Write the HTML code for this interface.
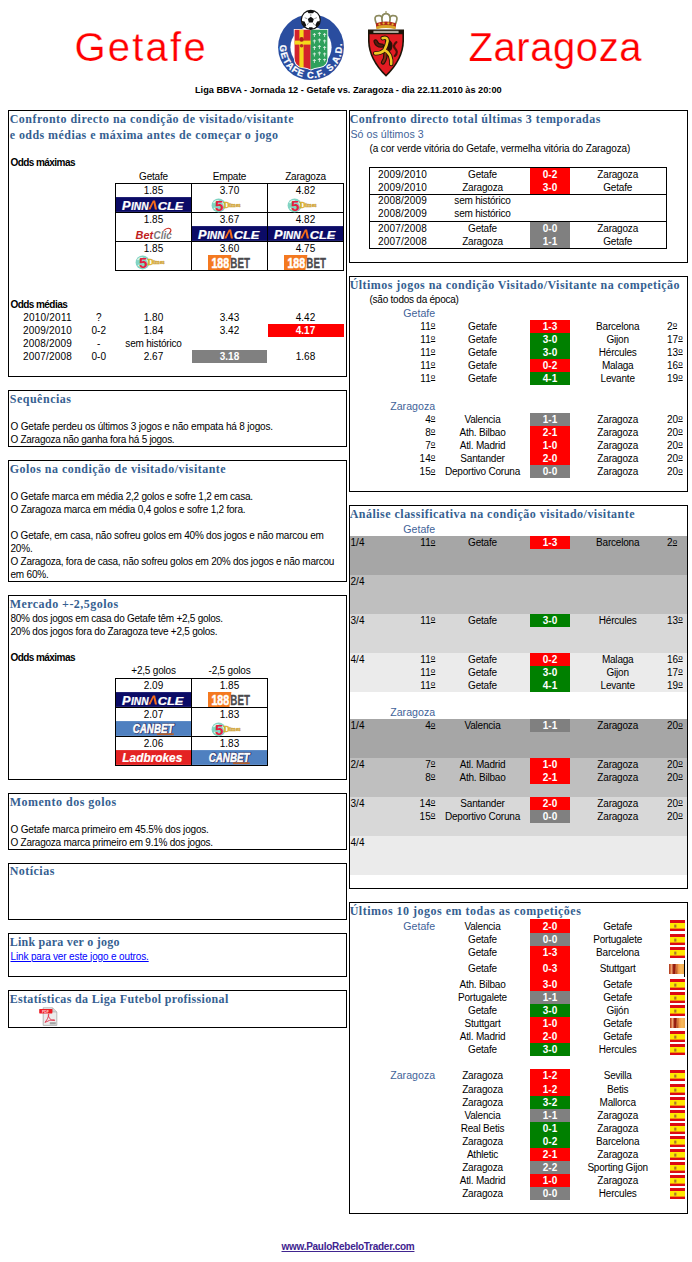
<!DOCTYPE html>
<html><head><meta charset="utf-8"><title>Getafe vs Zaragoza</title>
<style>
html,body{margin:0;padding:0;background:#fff;}
html,body{width:692px;height:1262px;overflow:hidden;}
body{font-family:"Liberation Sans",sans-serif;}
#pg{position:absolute;left:0;top:0;width:692px;height:1262px;overflow:hidden;background:#fff;}
.t{position:absolute;white-space:nowrap;font-size:10px;line-height:12px;color:#000;letter-spacing:-0.2px;}
.bb{font-weight:bold;font-size:10px;letter-spacing:-0.56px;}
.n{letter-spacing:0.05px;}
.o{position:relative;top:-2.6px;font-size:8px;text-decoration:underline;text-underline-offset:0.8px;text-decoration-thickness:0.8px;letter-spacing:0;}
.h{font-family:"Liberation Serif",serif;font-weight:bold;font-size:12px;line-height:16px;color:#365f91;letter-spacing:0.44px;}
.lab{font-size:10.6px;line-height:14px;color:#3f6399;letter-spacing:0.05px;}
.w{color:#fff;font-weight:bold;letter-spacing:0;}
.box{position:absolute;border:1px solid #000;box-sizing:content-box;}
.r{position:absolute;}
.title{font-size:40px;line-height:48px;color:#ff0000;-webkit-text-stroke:0.25px #fff;}
.sub{font-size:9.5px;line-height:12px;font-weight:bold;letter-spacing:-0.15px;}
.lnk{color:#0000ff;text-decoration:underline;}
</style></head><body><div id="pg">

<div class="t title" style="top:23.04px;left:74.40px;text-align:left;letter-spacing:2.25px;">Getafe</div>
<div class="t title" style="top:23.04px;left:468.60px;text-align:left;letter-spacing:0.55px;">Zaragoza</div>
<div class="t sub" style="top:83.93px;left:195.20px;text-align:left;font-size:10px;letter-spacing:0;transform:scale(0.9195,0.93);transform-origin:0 9.5px;">Liga BBVA - Jornada 12 - Getafe vs. Zaragoza - dia 22.11.2010 às 20:00</div>
<svg class="r" style="left:277px;top:8px" width="68" height="73" viewBox="0 0 68 73">
<defs><path id="garc" d="M 3.08 37.04 A 31 31 0 1 0 64.70 34.89"/></defs>
<circle cx="34" cy="39.2" r="32.9" fill="#2a4d9f"/>
<circle cx="34" cy="39.2" r="20.6" fill="#fff"/>
<text font-family="Liberation Sans" font-weight="bold" font-size="9.3" fill="#fff" stroke="#fff" stroke-width="0.25" letter-spacing="1.0"><textPath href="#garc" startOffset="0">GETAFE C.F. S.A.D.</textPath></text>
<path d="M16.8 21 H51.2 V50 Q51.2 58.5 43 60 Q37 60.6 34 62.6 Q31 60.6 25 60 Q16.8 58.5 16.8 50 Z" fill="#fff"/>
<path d="M17.6 21.8 H33.7 V61.4 Q30.5 59.6 25 59 Q17.6 57.6 17.6 50 Z" fill="#d3232b"/>
<path d="M33.7 21.8 H50.4 V50 Q50.4 57.6 43 59 Q37.5 59.6 33.7 61.4 Z" fill="#2fa05c"/>
<rect x="22.4" y="21.8" width="4.2" height="37.6" fill="#f4d81c"/>
<rect x="17.6" y="32.6" width="16.1" height="4" fill="#f4d81c"/>
<circle cx="24.6" cy="31.4" r="2.3" fill="#b01c1c"/>
<circle cx="24.6" cy="37.8" r="1.8" fill="#c02828"/>
<g stroke="#e8f6ec" stroke-width="0.8" fill="none">
<path d="M37.4 25v4M35.8 26.4h3.2 M42.4 24v4M40.8 25.4h3.2 M47.6 25v4M46 26.4h3.2"/>
<path d="M37.4 31.5v4M35.8 32.9h3.2 M42.4 30.5v4M40.8 31.9h3.2 M47.6 31.5v4M46 32.9h3.2"/>
<path d="M37.4 38v4M35.8 39.4h3.2 M42.4 37v4M40.8 38.4h3.2 M47.6 38v4M46 39.4h3.2"/>
<path d="M37.4 44.5v4M35.8 45.9h3.2 M42.4 43.5v4M40.8 44.9h3.2 M47.6 44.5v4M46 45.9h3.2"/>
<path d="M37.4 51v4M35.8 52.4h3.2 M42.4 50v4M40.8 51.4h3.2 M47.6 50.5v3M46 51.6h3"/>
</g>
<circle cx="33.8" cy="11.8" r="9.5" fill="#fff" stroke="#111" stroke-width="1.2"/>
<path d="M33.8 8.8 l3 2.2 -1.1 3.5 h-3.8 l-1.1 -3.5z" fill="#111"/>
<path d="M24.7 13 q0.4 3.8 3.2 6.2 l1.4 -2 -1.8 -3.6z M42.9 13 q-0.4 3.8 -3.2 6.2 l-1.4 -2 1.8 -3.6z M30 3.2 q3.8 -1.6 7.6 0 l-1.6 2 h-4.4z M31.6 20.8 q2.2 0.7 4.4 0 l-0.6 -1.6 h-3.2z" fill="#111"/>
<path d="M33.8 8.2V6 M37.3 10.7l2.6-1 M36 14.8l1.6 2.4 M31.6 14.8l-1.6 2.4 M30.3 10.7l-2.6-1" stroke="#555" stroke-width="0.6"/>
</svg>
<svg class="r" style="left:366px;top:10px" width="40" height="68" viewBox="0 0 40 68">
<path d="M20 1v3.4" stroke="#9a9460" stroke-width="1.2"/>
<path d="M10.4 12.4 Q20 8.4 29.6 12.4 L29.4 18.4 Q20 16.4 10.6 18.4 Z" fill="#a82418"/>
<g fill="#fff" stroke="#8c8a5e" stroke-width="1.7">
<path d="M10.6 14 Q6.4 4.8 13.6 5.6 Q17.2 6.4 16.6 12.6"/><path d="M29.4 14 Q33.6 4.8 26.4 5.6 Q22.8 6.4 23.4 12.6"/>
<path d="M16.4 12.8 Q14.6 3.6 20 3.6 Q25.4 3.6 23.6 12.8"/>
</g>
<path d="M9.8 13.2 Q20 9.6 30.2 13.2 L29.8 17.2 Q20 14.4 10.2 17.2 Z" fill="#b02a1a"/>
<g fill="#e8b62c"><circle cx="13.4" cy="14.4" r="1.1"/><circle cx="17.6" cy="13.4" r="1.1"/><circle cx="22.4" cy="13.4" r="1.1"/><circle cx="26.6" cy="14.4" r="1.1"/></g>
<path d="M10.2 16.4 Q20 13.6 29.8 16.4 L29.5 19.2 Q20 16.8 10.5 19.2Z" fill="#d8a428"/>
<path d="M2 19.6 H38 V31 Q37.6 50 20 66.8 Q2.4 50 2 31 Z" fill="#1c1408"/>
<path d="M3.6 24.2 H36.4 V31 Q36 48.8 20 64.6 Q4 48.8 3.6 31 Z" fill="#e21c23"/>
<rect x="7.4" y="20.8" width="25.2" height="2.2" fill="#e8e4d8" opacity="0.7"/>
<g fill="none" stroke-linecap="round" stroke-linejoin="round">
<path d="M16.6 28.2 Q21.6 26.6 21.6 31 Q20.6 36.4 18.4 40 Q15 43.6 9.2 43.4 M18.4 40 Q22 41.6 24 45.4 Q25.6 49.6 25.2 54 M19.4 43.6 Q20 48 17 52.4 M21 31 Q25.6 33 23.8 38.4 M16 35.6 Q11 36 9.6 31.4" stroke="#241208" stroke-width="4.4"/>
<path d="M16.6 28.2 Q21.6 26.6 21.6 31 Q20.6 36.4 18.4 40 Q15 43.6 9.2 43.4 M18.4 40 Q22 41.6 24 45.4 Q25.6 49.6 25.2 54" stroke="#efc824" stroke-width="2.6"/>
<path d="M19.4 43.6 Q20 48 17 52.4" stroke="#8a2a10" stroke-width="2"/>
<path d="M16 35.6 Q11 36 9.6 31.4" stroke="#5a1a0c" stroke-width="2"/>
<path d="M30.4 32.2 Q26.2 35.6 29.4 39 Q32.6 42.4 28.8 46" stroke="#4a1208" stroke-width="2.2"/>
</g>
</svg>
<div class="box" style="left:8px;top:110px;width:337px;height:265px"></div>
<div class="t h" style="top:110.95px;left:9.70px;text-align:left;letter-spacing:0.466px;">Confronto directo na condição de visitado/visitante</div>
<div class="t h" style="top:126.55px;left:9.70px;text-align:left;letter-spacing:0.436px;">e odds médias e máxima antes de começar o jogo</div>
<div class="t bb" style="top:157.03px;left:10.50px;text-align:left;">Odds máximas</div>
<div class="t b" style="top:170.93px;left:-46.50px;width:400px;text-align:center;">Getafe</div>
<div class="t b" style="top:170.93px;left:29.50px;width:400px;text-align:center;">Empate</div>
<div class="t b" style="top:170.93px;left:105.50px;width:400px;text-align:center;">Zaragoza</div>
<div class="r" style="left:115.00px;top:183.00px;width:229.00px;height:1.00px;background:#000;"></div>
<div class="r" style="left:115.00px;top:212.00px;width:229.00px;height:1.00px;background:#000;"></div>
<div class="r" style="left:115.00px;top:241.00px;width:229.00px;height:1.00px;background:#000;"></div>
<div class="r" style="left:115.00px;top:270.00px;width:229.00px;height:1.00px;background:#000;"></div>
<div class="r" style="left:115.00px;top:183.00px;width:1.00px;height:88.00px;background:#000;"></div>
<div class="r" style="left:191.00px;top:183.00px;width:1.00px;height:88.00px;background:#000;"></div>
<div class="r" style="left:267.00px;top:183.00px;width:1.00px;height:88.00px;background:#000;"></div>
<div class="r" style="left:343.00px;top:183.00px;width:1.00px;height:88.00px;background:#000;"></div>
<div class="t b n" style="top:185.03px;left:-46.50px;width:400px;text-align:center;">1.85</div>
<div class="t b n" style="top:185.03px;left:29.50px;width:400px;text-align:center;">3.70</div>
<div class="t b n" style="top:185.03px;left:105.50px;width:400px;text-align:center;">4.82</div>
<div class="t b n" style="top:214.03px;left:-46.50px;width:400px;text-align:center;">1.85</div>
<div class="t b n" style="top:214.03px;left:29.50px;width:400px;text-align:center;">3.67</div>
<div class="t b n" style="top:214.03px;left:105.50px;width:400px;text-align:center;">4.82</div>
<div class="t b n" style="top:243.03px;left:-46.50px;width:400px;text-align:center;">1.85</div>
<div class="t b n" style="top:243.03px;left:29.50px;width:400px;text-align:center;">3.60</div>
<div class="t b n" style="top:243.03px;left:105.50px;width:400px;text-align:center;">4.75</div>
<svg class="r" style="left:116px;top:197px" width="75" height="15" viewBox="0 0 76 15"><rect width="76" height="15" fill="#0b0b66"/><g fill="#fff" stroke="#fff" stroke-width="0.25" font-family="Liberation Sans" font-weight="bold" font-style="italic"><text x="6.2" y="12.6" font-size="12.4" textLength="8.6" lengthAdjust="spacingAndGlyphs">P</text><text x="15.2" y="12.6" font-size="11" textLength="17.8" lengthAdjust="spacingAndGlyphs">INN</text><text x="42.2" y="12.6" font-size="11" textLength="26" lengthAdjust="spacingAndGlyphs">CLE</text></g><path d="M32.6 12.6 L37.4 3.4 L39.6 3.4 L41.6 12.6 L39.4 12.6 L38 5.8 L34.9 12.6 Z" fill="#f26a1b"/></svg>
<svg class="r" style="left:210.5px;top:197.5px" width="31" height="15" viewBox="0 0 31 15"><circle cx="7.6" cy="7.4" r="7" fill="#62c9b4" opacity="0.8"/><path d="M2.5 5 Q5 2 8 3 M3 10 Q6 12.5 9 11.5 M10 3.5 Q13 5 13.5 8.5" stroke="#e6f6f2" stroke-width="1.3" fill="none" opacity="0.9"/><text x="4" y="13.4" font-family="Liberation Sans" font-weight="bold" font-size="15" fill="#e6203e" textLength="8.4" lengthAdjust="spacingAndGlyphs">5</text><text x="12.4" y="9.9" font-family="Liberation Serif" font-weight="bold" font-size="8.6" fill="#dcb030" stroke="#dcb030" stroke-width="0.35">D</text><text x="18.2" y="8.9" font-family="Liberation Serif" font-weight="bold" font-size="6.8" fill="#cfa232" stroke="#cfa232" stroke-width="0.3" textLength="11.4" lengthAdjust="spacingAndGlyphs">imes</text></svg>
<svg class="r" style="left:286.5px;top:197.5px" width="31" height="15" viewBox="0 0 31 15"><circle cx="7.6" cy="7.4" r="7" fill="#62c9b4" opacity="0.8"/><path d="M2.5 5 Q5 2 8 3 M3 10 Q6 12.5 9 11.5 M10 3.5 Q13 5 13.5 8.5" stroke="#e6f6f2" stroke-width="1.3" fill="none" opacity="0.9"/><text x="4" y="13.4" font-family="Liberation Sans" font-weight="bold" font-size="15" fill="#e6203e" textLength="8.4" lengthAdjust="spacingAndGlyphs">5</text><text x="12.4" y="9.9" font-family="Liberation Serif" font-weight="bold" font-size="8.6" fill="#dcb030" stroke="#dcb030" stroke-width="0.35">D</text><text x="18.2" y="8.9" font-family="Liberation Serif" font-weight="bold" font-size="6.8" fill="#cfa232" stroke="#cfa232" stroke-width="0.3" textLength="11.4" lengthAdjust="spacingAndGlyphs">imes</text></svg>
<svg class="r" style="left:134.5px;top:227px" width="39" height="14" viewBox="0 0 39 14"><text x="0.6" y="11.9" font-family="Liberation Sans" font-weight="bold" font-style="italic" font-size="10.2" fill="#c0201c" textLength="17.6" lengthAdjust="spacingAndGlyphs">Bet</text><text x="18.6" y="11.9" font-family="Liberation Sans" font-weight="bold" font-style="italic" font-size="10.2" fill="#77787a" textLength="18" lengthAdjust="spacingAndGlyphs">Clic</text><path d="M28.6 3.6 Q32.6 -0.2 35.4 2 Q36.8 3.8 34.4 6" fill="none" stroke="#c8281f" stroke-width="1.1"/></svg>
<svg class="r" style="left:192px;top:226px" width="75" height="15" viewBox="0 0 76 15"><rect width="76" height="15" fill="#0b0b66"/><g fill="#fff" stroke="#fff" stroke-width="0.25" font-family="Liberation Sans" font-weight="bold" font-style="italic"><text x="6.2" y="12.6" font-size="12.4" textLength="8.6" lengthAdjust="spacingAndGlyphs">P</text><text x="15.2" y="12.6" font-size="11" textLength="17.8" lengthAdjust="spacingAndGlyphs">INN</text><text x="42.2" y="12.6" font-size="11" textLength="26" lengthAdjust="spacingAndGlyphs">CLE</text></g><path d="M32.6 12.6 L37.4 3.4 L39.6 3.4 L41.6 12.6 L39.4 12.6 L38 5.8 L34.9 12.6 Z" fill="#f26a1b"/></svg>
<svg class="r" style="left:268px;top:226px" width="75" height="15" viewBox="0 0 76 15"><rect width="76" height="15" fill="#0b0b66"/><g fill="#fff" stroke="#fff" stroke-width="0.25" font-family="Liberation Sans" font-weight="bold" font-style="italic"><text x="6.2" y="12.6" font-size="12.4" textLength="8.6" lengthAdjust="spacingAndGlyphs">P</text><text x="15.2" y="12.6" font-size="11" textLength="17.8" lengthAdjust="spacingAndGlyphs">INN</text><text x="42.2" y="12.6" font-size="11" textLength="26" lengthAdjust="spacingAndGlyphs">CLE</text></g><path d="M32.6 12.6 L37.4 3.4 L39.6 3.4 L41.6 12.6 L39.4 12.6 L38 5.8 L34.9 12.6 Z" fill="#f26a1b"/></svg>
<svg class="r" style="left:134.5px;top:255px" width="31" height="15" viewBox="0 0 31 15"><circle cx="7.6" cy="7.4" r="7" fill="#62c9b4" opacity="0.8"/><path d="M2.5 5 Q5 2 8 3 M3 10 Q6 12.5 9 11.5 M10 3.5 Q13 5 13.5 8.5" stroke="#e6f6f2" stroke-width="1.3" fill="none" opacity="0.9"/><text x="4" y="13.4" font-family="Liberation Sans" font-weight="bold" font-size="15" fill="#e6203e" textLength="8.4" lengthAdjust="spacingAndGlyphs">5</text><text x="12.4" y="9.9" font-family="Liberation Serif" font-weight="bold" font-size="8.6" fill="#dcb030" stroke="#dcb030" stroke-width="0.35">D</text><text x="18.2" y="8.9" font-family="Liberation Serif" font-weight="bold" font-size="6.8" fill="#cfa232" stroke="#cfa232" stroke-width="0.3" textLength="11.4" lengthAdjust="spacingAndGlyphs">imes</text></svg>
<svg class="r" style="left:208px;top:255px" width="44" height="15" viewBox="0 0 44 15"><path d="M0 0 H23.4 L21.4 15 H0Z" fill="#f47920"/><text x="3.4" y="12.9" font-family="Liberation Sans" font-weight="bold" font-size="14.2" fill="#fff" stroke="#fff" stroke-width="0.5" textLength="17.8" lengthAdjust="spacingAndGlyphs">188</text><text x="22.3" y="12.9" font-family="Liberation Sans" font-weight="bold" font-size="14.2" fill="#4a4a4d" stroke="#4a4a4d" stroke-width="0.3" textLength="19.6" lengthAdjust="spacingAndGlyphs">BET</text></svg>
<svg class="r" style="left:284px;top:255px" width="44" height="15" viewBox="0 0 44 15"><path d="M0 0 H23.4 L21.4 15 H0Z" fill="#f47920"/><text x="3.4" y="12.9" font-family="Liberation Sans" font-weight="bold" font-size="14.2" fill="#fff" stroke="#fff" stroke-width="0.5" textLength="17.8" lengthAdjust="spacingAndGlyphs">188</text><text x="22.3" y="12.9" font-family="Liberation Sans" font-weight="bold" font-size="14.2" fill="#4a4a4d" stroke="#4a4a4d" stroke-width="0.3" textLength="19.6" lengthAdjust="spacingAndGlyphs">BET</text></svg>
<div class="t bb" style="top:298.83px;left:10.50px;text-align:left;">Odds médias</div>
<div class="r" style="left:268.00px;top:324.00px;width:76.00px;height:13.00px;background:#ff0000;"></div>
<div class="r" style="left:192.00px;top:350.00px;width:75.00px;height:13.00px;background:#808080;"></div>
<div class="t b n" style="top:312.43px;left:-152.50px;width:400px;text-align:center;letter-spacing:0.2px;">2010/2011</div>
<div class="t b n" style="top:312.43px;left:-101.20px;width:400px;text-align:center;">?</div>
<div class="t b n" style="top:312.43px;left:-46.50px;width:400px;text-align:center;">1.80</div>
<div class="t b n" style="top:312.43px;left:29.50px;width:400px;text-align:center;">3.43</div>
<div class="t b n" style="top:312.43px;left:105.50px;width:400px;text-align:center;">4.42</div>
<div class="t b n" style="top:325.23px;left:-152.50px;width:400px;text-align:center;letter-spacing:0.2px;">2009/2010</div>
<div class="t b n" style="top:325.23px;left:-101.20px;width:400px;text-align:center;">0-2</div>
<div class="t b n" style="top:325.23px;left:-46.50px;width:400px;text-align:center;">1.84</div>
<div class="t b n" style="top:325.23px;left:29.50px;width:400px;text-align:center;">3.42</div>
<div class="t w" style="top:325.23px;left:105.50px;width:400px;text-align:center;">4.17</div>
<div class="t b n" style="top:338.03px;left:-152.50px;width:400px;text-align:center;letter-spacing:0.2px;">2008/2009</div>
<div class="t b n" style="top:338.03px;left:-101.20px;width:400px;text-align:center;">-</div>
<div class="t b" style="top:338.03px;left:-46.50px;width:400px;text-align:center;">sem histórico</div>
<div class="t b n" style="top:350.83px;left:-152.50px;width:400px;text-align:center;letter-spacing:0.2px;">2007/2008</div>
<div class="t b n" style="top:350.83px;left:-101.20px;width:400px;text-align:center;">0-0</div>
<div class="t b n" style="top:350.83px;left:-46.50px;width:400px;text-align:center;">2.67</div>
<div class="t w" style="top:350.83px;left:29.50px;width:400px;text-align:center;">3.18</div>
<div class="t b n" style="top:350.83px;left:105.50px;width:400px;text-align:center;">1.68</div>
<div class="box" style="left:8px;top:390px;width:337px;height:55px"></div>
<div class="t h" style="top:390.85px;left:9.70px;text-align:left;letter-spacing:0.518px;">Sequências</div>
<div class="t b" style="top:420.73px;left:10.50px;text-align:left;letter-spacing:-0.179px;">O Getafe perdeu os últimos 3 jogos e não empata há 8 jogos.</div>
<div class="t b" style="top:433.73px;left:10.50px;text-align:left;letter-spacing:-0.290px;">O Zaragoza não ganha fora há 5 jogos.</div>
<div class="box" style="left:8px;top:460px;width:337px;height:120px"></div>
<div class="t h" style="top:460.85px;left:9.70px;text-align:left;letter-spacing:0.470px;">Golos na condição de visitado/visitante</div>
<div class="t b" style="top:490.73px;left:10.50px;text-align:left;letter-spacing:-0.226px;">O Getafe marca em média 2,2 golos e sofre 1,2 em casa.</div>
<div class="t b" style="top:503.63px;left:10.50px;text-align:left;letter-spacing:-0.214px;">O Zaragoza marca em média 0,4 golos e sofre 1,2 fora.</div>
<div class="t b" style="top:530.23px;left:10.50px;text-align:left;letter-spacing:-0.234px;">O Getafe, em casa, não sofreu golos em 40% dos jogos e não marcou em</div>
<div class="t b" style="top:543.13px;left:10.50px;text-align:left;">20%.</div>
<div class="t b" style="top:556.03px;left:10.50px;text-align:left;letter-spacing:-0.253px;">O Zaragoza, fora de casa, não sofreu golos em 20% dos jogos e não marcou</div>
<div class="t b" style="top:568.83px;left:10.50px;text-align:left;">em 60%.</div>
<div class="box" style="left:8px;top:595px;width:337px;height:183px"></div>
<div class="t h" style="top:595.85px;left:9.70px;text-align:left;letter-spacing:0.457px;">Mercado +-2,5golos</div>
<div class="t b" style="top:613.43px;left:10.50px;text-align:left;letter-spacing:-0.254px;">80% dos jogos em casa do Getafe têm +2,5 golos.</div>
<div class="t b" style="top:626.13px;left:10.50px;text-align:left;letter-spacing:-0.241px;">20% dos jogos fora do Zaragoza teve +2,5 golos.</div>
<div class="t bb" style="top:651.63px;left:10.50px;text-align:left;">Odds máximas</div>
<div class="t b" style="top:665.23px;left:-46.50px;width:400px;text-align:center;">+2,5 golos</div>
<div class="t b" style="top:665.23px;left:29.50px;width:400px;text-align:center;">-2,5 golos</div>
<div class="r" style="left:115.00px;top:678.00px;width:153.00px;height:1.00px;background:#000;"></div>
<div class="r" style="left:115.00px;top:707.00px;width:153.00px;height:1.00px;background:#000;"></div>
<div class="r" style="left:115.00px;top:736.00px;width:153.00px;height:1.00px;background:#000;"></div>
<div class="r" style="left:115.00px;top:765.00px;width:153.00px;height:1.00px;background:#000;"></div>
<div class="r" style="left:115.00px;top:678.00px;width:1.00px;height:88.00px;background:#000;"></div>
<div class="r" style="left:191.00px;top:678.00px;width:1.00px;height:88.00px;background:#000;"></div>
<div class="r" style="left:267.00px;top:678.00px;width:1.00px;height:88.00px;background:#000;"></div>
<div class="t b n" style="top:680.23px;left:-46.50px;width:400px;text-align:center;">2.09</div>
<div class="t b n" style="top:680.23px;left:29.50px;width:400px;text-align:center;">1.85</div>
<div class="t b n" style="top:709.23px;left:-46.50px;width:400px;text-align:center;">2.07</div>
<div class="t b n" style="top:709.23px;left:29.50px;width:400px;text-align:center;">1.83</div>
<div class="t b n" style="top:738.23px;left:-46.50px;width:400px;text-align:center;">2.06</div>
<div class="t b n" style="top:738.23px;left:29.50px;width:400px;text-align:center;">1.83</div>
<svg class="r" style="left:116px;top:692px" width="75" height="15" viewBox="0 0 76 15"><rect width="76" height="15" fill="#0b0b66"/><g fill="#fff" stroke="#fff" stroke-width="0.25" font-family="Liberation Sans" font-weight="bold" font-style="italic"><text x="6.2" y="12.6" font-size="12.4" textLength="8.6" lengthAdjust="spacingAndGlyphs">P</text><text x="15.2" y="12.6" font-size="11" textLength="17.8" lengthAdjust="spacingAndGlyphs">INN</text><text x="42.2" y="12.6" font-size="11" textLength="26" lengthAdjust="spacingAndGlyphs">CLE</text></g><path d="M32.6 12.6 L37.4 3.4 L39.6 3.4 L41.6 12.6 L39.4 12.6 L38 5.8 L34.9 12.6 Z" fill="#f26a1b"/></svg>
<svg class="r" style="left:208px;top:692.3px" width="44" height="15" viewBox="0 0 44 15"><path d="M0 0 H23.4 L21.4 15 H0Z" fill="#f47920"/><text x="3.4" y="12.9" font-family="Liberation Sans" font-weight="bold" font-size="14.2" fill="#fff" stroke="#fff" stroke-width="0.5" textLength="17.8" lengthAdjust="spacingAndGlyphs">188</text><text x="22.3" y="12.9" font-family="Liberation Sans" font-weight="bold" font-size="14.2" fill="#4a4a4d" stroke="#4a4a4d" stroke-width="0.3" textLength="19.6" lengthAdjust="spacingAndGlyphs">BET</text></svg>
<svg class="r" style="left:116px;top:721px" width="75" height="15" viewBox="0 0 76 15"><rect width="76" height="15" fill="#4f80c0"/><g font-family="Liberation Sans" font-weight="bold" font-style="italic" font-size="12.2"><text x="17.5" y="12.5" fill="#1a2458" stroke="#1a2458" stroke-width="1.5" stroke-linejoin="round" textLength="41.4" lengthAdjust="spacingAndGlyphs">CANBET</text><text x="16.9" y="11.8" fill="#fff" stroke="#fff" stroke-width="0.55" textLength="41.4" lengthAdjust="spacingAndGlyphs">CANBET</text></g><rect x="41.5" y="12.4" width="17" height="1.8" fill="#b4602c"/></svg>
<svg class="r" style="left:210.5px;top:721.5px" width="31" height="15" viewBox="0 0 31 15"><circle cx="7.6" cy="7.4" r="7" fill="#62c9b4" opacity="0.8"/><path d="M2.5 5 Q5 2 8 3 M3 10 Q6 12.5 9 11.5 M10 3.5 Q13 5 13.5 8.5" stroke="#e6f6f2" stroke-width="1.3" fill="none" opacity="0.9"/><text x="4" y="13.4" font-family="Liberation Sans" font-weight="bold" font-size="15" fill="#e6203e" textLength="8.4" lengthAdjust="spacingAndGlyphs">5</text><text x="12.4" y="9.9" font-family="Liberation Serif" font-weight="bold" font-size="8.6" fill="#dcb030" stroke="#dcb030" stroke-width="0.35">D</text><text x="18.2" y="8.9" font-family="Liberation Serif" font-weight="bold" font-size="6.8" fill="#cfa232" stroke="#cfa232" stroke-width="0.3" textLength="11.4" lengthAdjust="spacingAndGlyphs">imes</text></svg>
<svg class="r" style="left:116px;top:750px" width="75" height="15" viewBox="0 0 76 15"><rect width="76" height="15" fill="#e42323"/><text x="6.4" y="12.2" font-family="Liberation Sans" font-weight="bold" font-style="italic" font-size="12.6" fill="#fff" stroke="#fff" stroke-width="0.2" textLength="60.8" lengthAdjust="spacingAndGlyphs">Ladbrokes</text></svg>
<svg class="r" style="left:192px;top:750px" width="75" height="15" viewBox="0 0 76 15"><rect width="76" height="15" fill="#4f80c0"/><g font-family="Liberation Sans" font-weight="bold" font-style="italic" font-size="12.2"><text x="17.5" y="12.5" fill="#1a2458" stroke="#1a2458" stroke-width="1.5" stroke-linejoin="round" textLength="41.4" lengthAdjust="spacingAndGlyphs">CANBET</text><text x="16.9" y="11.8" fill="#fff" stroke="#fff" stroke-width="0.55" textLength="41.4" lengthAdjust="spacingAndGlyphs">CANBET</text></g><rect x="41.5" y="12.4" width="17" height="1.8" fill="#b4602c"/></svg>
<div class="box" style="left:8px;top:793px;width:337px;height:55px"></div>
<div class="t h" style="top:793.85px;left:9.70px;text-align:left;letter-spacing:0.496px;">Momento dos golos</div>
<div class="t b" style="top:824.43px;left:10.50px;text-align:left;letter-spacing:-0.187px;">O Getafe marca primeiro em 45.5% dos jogos.</div>
<div class="t b" style="top:837.23px;left:10.50px;text-align:left;letter-spacing:-0.238px;">O Zaragoza marca primeiro em 9.1% dos jogos.</div>
<div class="box" style="left:8px;top:863px;width:337px;height:55px"></div>
<div class="t h" style="top:863.45px;left:9.70px;text-align:left;letter-spacing:0.470px;">Notícias</div>
<div class="box" style="left:8px;top:933px;width:337px;height:42px"></div>
<div class="t h" style="top:933.85px;left:9.70px;text-align:left;letter-spacing:0.243px;">Link para ver o jogo</div>
<div class="t lnk" style="top:950.73px;left:10.50px;text-align:left;letter-spacing:-0.142px;">Link para ver este jogo e outros.</div>
<div class="box" style="left:8px;top:990px;width:337px;height:36px"></div>
<div class="t h" style="top:990.85px;left:9.70px;text-align:left;letter-spacing:0.335px;">Estatísticas da Liga Futebol profissional</div>
<svg class="r" style="left:39px;top:1007px" width="19" height="19" viewBox="0 0 19 19">
<path d="M4.2 0.8 H13.6 L17.8 5 V18.4 H4.2Z" fill="#ececec" stroke="#a8a8a8" stroke-width="0.8"/>
<path d="M13.6 0.8 V5 H17.8" fill="#d4d4d4" stroke="#a8a8a8" stroke-width="0.6"/>
<rect x="0.2" y="1.9" width="13.2" height="4.5" rx="0.6" fill="#ee1c24"/>
<text x="3" y="5.7" font-family="Liberation Sans" font-weight="bold" font-size="4" fill="#ffd8d8" textLength="7" lengthAdjust="spacingAndGlyphs">PDF</text>
<path d="M6 15.4 Q9 12 9.8 8 Q10 6.8 9.4 7.2 Q8.8 8.4 10.4 11.2 Q12.4 13.8 15.6 13.6 Q16.4 13 15 12.8 Q10.6 12.6 6 15.4Z" fill="none" stroke="#e2344c" stroke-width="0.9"/>
<rect x="10.8" y="15.2" width="6" height="2.2" fill="#a4a4a4"/>
</svg>
<div class="box" style="left:349px;top:110px;width:337px;height:151px"></div>
<div class="t h" style="top:110.95px;left:349.70px;text-align:left;letter-spacing:0.436px;">Confronto directo total últimas 3 temporadas</div>
<div class="t lab" style="top:127.23px;left:350.50px;text-align:left;letter-spacing:0.054px;">Só os últimos 3</div>
<div class="t b" style="top:142.63px;left:369.50px;text-align:left;letter-spacing:-0.118px;">(a cor verde vitória do Getafe, vermelha vitória do Zaragoza)</div>
<div class="r" style="left:530.00px;top:168.00px;width:40.00px;height:26.00px;background:#ff0000;"></div>
<div class="r" style="left:530.00px;top:222.00px;width:40.00px;height:26.00px;background:#808080;"></div>
<div class="r" style="left:369.00px;top:167.00px;width:298.00px;height:1.00px;background:#000;"></div>
<div class="r" style="left:369.00px;top:194.00px;width:298.00px;height:1.00px;background:#000;"></div>
<div class="r" style="left:369.00px;top:221.00px;width:298.00px;height:1.00px;background:#000;"></div>
<div class="r" style="left:369.00px;top:248.00px;width:298.00px;height:1.00px;background:#000;"></div>
<div class="r" style="left:369.00px;top:167.00px;width:1.00px;height:82.00px;background:#000;"></div>
<div class="r" style="left:666.00px;top:167.00px;width:1.00px;height:82.00px;background:#000;"></div>
<div class="t b n" style="top:168.63px;left:202.50px;width:400px;text-align:center;letter-spacing:0.2px;">2009/2010</div>
<div class="t b" style="top:168.63px;left:282.50px;width:400px;text-align:center;">Getafe</div>
<div class="t w" style="top:168.63px;left:350.00px;width:400px;text-align:center;">0-2</div>
<div class="t b" style="top:168.63px;left:417.70px;width:400px;text-align:center;">Zaragoza</div>
<div class="t b n" style="top:181.73px;left:202.50px;width:400px;text-align:center;letter-spacing:0.2px;">2009/2010</div>
<div class="t b" style="top:181.73px;left:282.50px;width:400px;text-align:center;">Zaragoza</div>
<div class="t w" style="top:181.73px;left:350.00px;width:400px;text-align:center;">3-0</div>
<div class="t b" style="top:181.73px;left:417.70px;width:400px;text-align:center;">Getafe</div>
<div class="t b n" style="top:195.33px;left:202.50px;width:400px;text-align:center;letter-spacing:0.2px;">2008/2009</div>
<div class="t b" style="top:195.33px;left:282.50px;width:400px;text-align:center;">sem histórico</div>
<div class="t b n" style="top:208.33px;left:202.50px;width:400px;text-align:center;letter-spacing:0.2px;">2008/2009</div>
<div class="t b" style="top:208.33px;left:282.50px;width:400px;text-align:center;">sem histórico</div>
<div class="t b n" style="top:222.73px;left:202.50px;width:400px;text-align:center;letter-spacing:0.2px;">2007/2008</div>
<div class="t b" style="top:222.73px;left:282.50px;width:400px;text-align:center;">Getafe</div>
<div class="t w" style="top:222.73px;left:350.00px;width:400px;text-align:center;">0-0</div>
<div class="t b" style="top:222.73px;left:417.70px;width:400px;text-align:center;">Zaragoza</div>
<div class="t b n" style="top:235.83px;left:202.50px;width:400px;text-align:center;letter-spacing:0.2px;">2007/2008</div>
<div class="t b" style="top:235.83px;left:282.50px;width:400px;text-align:center;">Zaragoza</div>
<div class="t w" style="top:235.83px;left:350.00px;width:400px;text-align:center;">1-1</div>
<div class="t b" style="top:235.83px;left:417.70px;width:400px;text-align:center;">Getafe</div>
<div class="box" style="left:349px;top:276px;width:337px;height:214px"></div>
<div class="t h" style="top:277.25px;left:349.70px;text-align:left;letter-spacing:0.450px;">Últimos jogos na condição Visitado/Visitante na competição</div>
<div class="t b" style="top:294.23px;left:369.50px;text-align:left;letter-spacing:-0.241px;">(são todos da época)</div>
<div class="t lab" style="top:306.03px;left:35.30px;width:400px;text-align:right;">Getafe</div>
<div class="r" style="left:530.00px;top:320.00px;width:40.00px;height:13.00px;background:#ff0000;"></div>
<div class="t b n" style="top:320.83px;left:35.30px;width:400px;text-align:right;">11<span class="o">o</span></div>
<div class="t b" style="top:320.83px;left:282.50px;width:400px;text-align:center;">Getafe</div>
<div class="t w" style="top:320.83px;left:350.00px;width:400px;text-align:center;">1-3</div>
<div class="t b" style="top:320.83px;left:417.70px;width:400px;text-align:center;">Barcelona</div>
<div class="t b n" style="top:320.83px;left:667.00px;text-align:left;">2<span class="o">o</span></div>
<div class="r" style="left:530.00px;top:333.00px;width:40.00px;height:13.00px;background:#008000;"></div>
<div class="t b n" style="top:333.83px;left:35.30px;width:400px;text-align:right;">11<span class="o">o</span></div>
<div class="t b" style="top:333.83px;left:282.50px;width:400px;text-align:center;">Getafe</div>
<div class="t w" style="top:333.83px;left:350.00px;width:400px;text-align:center;">3-0</div>
<div class="t b" style="top:333.83px;left:417.70px;width:400px;text-align:center;">Gijon</div>
<div class="t b n" style="top:333.83px;left:667.00px;text-align:left;">17<span class="o">o</span></div>
<div class="r" style="left:530.00px;top:346.00px;width:40.00px;height:13.00px;background:#008000;"></div>
<div class="t b n" style="top:346.83px;left:35.30px;width:400px;text-align:right;">11<span class="o">o</span></div>
<div class="t b" style="top:346.83px;left:282.50px;width:400px;text-align:center;">Getafe</div>
<div class="t w" style="top:346.83px;left:350.00px;width:400px;text-align:center;">3-0</div>
<div class="t b" style="top:346.83px;left:417.70px;width:400px;text-align:center;">Hércules</div>
<div class="t b n" style="top:346.83px;left:667.00px;text-align:left;">13<span class="o">o</span></div>
<div class="r" style="left:530.00px;top:359.00px;width:40.00px;height:13.00px;background:#ff0000;"></div>
<div class="t b n" style="top:359.83px;left:35.30px;width:400px;text-align:right;">11<span class="o">o</span></div>
<div class="t b" style="top:359.83px;left:282.50px;width:400px;text-align:center;">Getafe</div>
<div class="t w" style="top:359.83px;left:350.00px;width:400px;text-align:center;">0-2</div>
<div class="t b" style="top:359.83px;left:417.70px;width:400px;text-align:center;">Malaga</div>
<div class="t b n" style="top:359.83px;left:667.00px;text-align:left;">16<span class="o">o</span></div>
<div class="r" style="left:530.00px;top:372.00px;width:40.00px;height:13.00px;background:#008000;"></div>
<div class="t b n" style="top:372.83px;left:35.30px;width:400px;text-align:right;">11<span class="o">o</span></div>
<div class="t b" style="top:372.83px;left:282.50px;width:400px;text-align:center;">Getafe</div>
<div class="t w" style="top:372.83px;left:350.00px;width:400px;text-align:center;">4-1</div>
<div class="t b" style="top:372.83px;left:417.70px;width:400px;text-align:center;">Levante</div>
<div class="t b n" style="top:372.83px;left:667.00px;text-align:left;">19<span class="o">o</span></div>
<div class="t lab" style="top:398.63px;left:35.30px;width:400px;text-align:right;">Zaragoza</div>
<div class="r" style="left:530.00px;top:413.00px;width:40.00px;height:13.00px;background:#808080;"></div>
<div class="t b n" style="top:413.93px;left:35.30px;width:400px;text-align:right;">4<span class="o">o</span></div>
<div class="t b" style="top:413.93px;left:282.50px;width:400px;text-align:center;">Valencia</div>
<div class="t w" style="top:413.93px;left:350.00px;width:400px;text-align:center;">1-1</div>
<div class="t b" style="top:413.93px;left:417.70px;width:400px;text-align:center;">Zaragoza</div>
<div class="t b n" style="top:413.93px;left:667.00px;text-align:left;">20<span class="o">o</span></div>
<div class="r" style="left:530.00px;top:426.00px;width:40.00px;height:13.00px;background:#ff0000;"></div>
<div class="t b n" style="top:426.98px;left:35.30px;width:400px;text-align:right;">8<span class="o">o</span></div>
<div class="t b" style="top:426.98px;left:282.50px;width:400px;text-align:center;">Ath. Bilbao</div>
<div class="t w" style="top:426.98px;left:350.00px;width:400px;text-align:center;">2-1</div>
<div class="t b" style="top:426.98px;left:417.70px;width:400px;text-align:center;">Zaragoza</div>
<div class="t b n" style="top:426.98px;left:667.00px;text-align:left;">20<span class="o">o</span></div>
<div class="r" style="left:530.00px;top:439.00px;width:40.00px;height:13.00px;background:#ff0000;"></div>
<div class="t b n" style="top:440.03px;left:35.30px;width:400px;text-align:right;">7<span class="o">o</span></div>
<div class="t b" style="top:440.03px;left:282.50px;width:400px;text-align:center;">Atl. Madrid</div>
<div class="t w" style="top:440.03px;left:350.00px;width:400px;text-align:center;">1-0</div>
<div class="t b" style="top:440.03px;left:417.70px;width:400px;text-align:center;">Zaragoza</div>
<div class="t b n" style="top:440.03px;left:667.00px;text-align:left;">20<span class="o">o</span></div>
<div class="r" style="left:530.00px;top:452.00px;width:40.00px;height:13.00px;background:#ff0000;"></div>
<div class="t b n" style="top:453.08px;left:35.30px;width:400px;text-align:right;">14<span class="o">o</span></div>
<div class="t b" style="top:453.08px;left:282.50px;width:400px;text-align:center;">Santander</div>
<div class="t w" style="top:453.08px;left:350.00px;width:400px;text-align:center;">2-0</div>
<div class="t b" style="top:453.08px;left:417.70px;width:400px;text-align:center;">Zaragoza</div>
<div class="t b n" style="top:453.08px;left:667.00px;text-align:left;">20<span class="o">o</span></div>
<div class="r" style="left:530.00px;top:465.00px;width:40.00px;height:13.00px;background:#808080;"></div>
<div class="t b n" style="top:466.13px;left:35.30px;width:400px;text-align:right;">15<span class="o">o</span></div>
<div class="t b" style="top:466.13px;left:282.50px;width:400px;text-align:center;">Deportivo Coruna</div>
<div class="t w" style="top:466.13px;left:350.00px;width:400px;text-align:center;">0-0</div>
<div class="t b" style="top:466.13px;left:417.70px;width:400px;text-align:center;">Zaragoza</div>
<div class="t b n" style="top:466.13px;left:667.00px;text-align:left;">20<span class="o">o</span></div>
<div class="box" style="left:349px;top:505px;width:337px;height:382px"></div>
<div class="t h" style="top:505.85px;left:349.70px;text-align:left;letter-spacing:0.478px;">Análise classificativa na condição visitado/visitante</div>
<div class="t lab" style="top:521.73px;left:35.30px;width:400px;text-align:right;">Getafe</div>
<div class="r" style="left:350.00px;top:536.00px;width:337.00px;height:39.00px;background:#a6a6a6;"></div>
<div class="t b n" style="top:536.93px;left:350.50px;text-align:left;">1/4</div>
<div class="r" style="left:350.00px;top:575.00px;width:337.00px;height:39.00px;background:#bfbfbf;"></div>
<div class="t b n" style="top:575.93px;left:350.50px;text-align:left;">2/4</div>
<div class="r" style="left:350.00px;top:614.00px;width:337.00px;height:39.00px;background:#d8d8d8;"></div>
<div class="t b n" style="top:614.93px;left:350.50px;text-align:left;">3/4</div>
<div class="r" style="left:350.00px;top:653.00px;width:337.00px;height:39.00px;background:#ebebeb;"></div>
<div class="t b n" style="top:653.93px;left:350.50px;text-align:left;">4/4</div>
<div class="r" style="left:530.00px;top:536.00px;width:40.00px;height:13.00px;background:#ff0000;"></div>
<div class="t b n" style="top:537.23px;left:35.30px;width:400px;text-align:right;">11<span class="o">o</span></div>
<div class="t b" style="top:537.23px;left:282.50px;width:400px;text-align:center;">Getafe</div>
<div class="t w" style="top:537.23px;left:350.00px;width:400px;text-align:center;">1-3</div>
<div class="t b" style="top:537.23px;left:417.70px;width:400px;text-align:center;">Barcelona</div>
<div class="t b n" style="top:537.23px;left:667.00px;text-align:left;">2<span class="o">o</span></div>
<div class="r" style="left:530.00px;top:614.00px;width:40.00px;height:13.00px;background:#008000;"></div>
<div class="t b n" style="top:614.83px;left:35.30px;width:400px;text-align:right;">11<span class="o">o</span></div>
<div class="t b" style="top:614.83px;left:282.50px;width:400px;text-align:center;">Getafe</div>
<div class="t w" style="top:614.83px;left:350.00px;width:400px;text-align:center;">3-0</div>
<div class="t b" style="top:614.83px;left:417.70px;width:400px;text-align:center;">Hércules</div>
<div class="t b n" style="top:614.83px;left:667.00px;text-align:left;">13<span class="o">o</span></div>
<div class="r" style="left:530.00px;top:653.00px;width:40.00px;height:13.00px;background:#ff0000;"></div>
<div class="t b n" style="top:653.63px;left:35.30px;width:400px;text-align:right;">11<span class="o">o</span></div>
<div class="t b" style="top:653.63px;left:282.50px;width:400px;text-align:center;">Getafe</div>
<div class="t w" style="top:653.63px;left:350.00px;width:400px;text-align:center;">0-2</div>
<div class="t b" style="top:653.63px;left:417.70px;width:400px;text-align:center;">Malaga</div>
<div class="t b n" style="top:653.63px;left:667.00px;text-align:left;">16<span class="o">o</span></div>
<div class="r" style="left:530.00px;top:666.00px;width:40.00px;height:13.00px;background:#008000;"></div>
<div class="t b n" style="top:666.63px;left:35.30px;width:400px;text-align:right;">11<span class="o">o</span></div>
<div class="t b" style="top:666.63px;left:282.50px;width:400px;text-align:center;">Getafe</div>
<div class="t w" style="top:666.63px;left:350.00px;width:400px;text-align:center;">3-0</div>
<div class="t b" style="top:666.63px;left:417.70px;width:400px;text-align:center;">Gijon</div>
<div class="t b n" style="top:666.63px;left:667.00px;text-align:left;">17<span class="o">o</span></div>
<div class="r" style="left:530.00px;top:679.00px;width:40.00px;height:13.00px;background:#008000;"></div>
<div class="t b n" style="top:679.63px;left:35.30px;width:400px;text-align:right;">11<span class="o">o</span></div>
<div class="t b" style="top:679.63px;left:282.50px;width:400px;text-align:center;">Getafe</div>
<div class="t w" style="top:679.63px;left:350.00px;width:400px;text-align:center;">4-1</div>
<div class="t b" style="top:679.63px;left:417.70px;width:400px;text-align:center;">Levante</div>
<div class="t b n" style="top:679.63px;left:667.00px;text-align:left;">19<span class="o">o</span></div>
<div class="t lab" style="top:704.73px;left:35.30px;width:400px;text-align:right;">Zaragoza</div>
<div class="r" style="left:350.00px;top:719.00px;width:337.00px;height:39.00px;background:#a6a6a6;"></div>
<div class="t b n" style="top:719.93px;left:350.50px;text-align:left;">1/4</div>
<div class="r" style="left:350.00px;top:758.00px;width:337.00px;height:39.00px;background:#bfbfbf;"></div>
<div class="t b n" style="top:758.93px;left:350.50px;text-align:left;">2/4</div>
<div class="r" style="left:350.00px;top:797.00px;width:337.00px;height:39.00px;background:#d8d8d8;"></div>
<div class="t b n" style="top:797.93px;left:350.50px;text-align:left;">3/4</div>
<div class="r" style="left:350.00px;top:836.00px;width:337.00px;height:39.00px;background:#ebebeb;"></div>
<div class="t b n" style="top:836.93px;left:350.50px;text-align:left;">4/4</div>
<div class="r" style="left:530.00px;top:719.00px;width:40.00px;height:13.00px;background:#808080;"></div>
<div class="t b n" style="top:720.23px;left:35.30px;width:400px;text-align:right;">4<span class="o">o</span></div>
<div class="t b" style="top:720.23px;left:282.50px;width:400px;text-align:center;">Valencia</div>
<div class="t w" style="top:720.23px;left:350.00px;width:400px;text-align:center;">1-1</div>
<div class="t b" style="top:720.23px;left:417.70px;width:400px;text-align:center;">Zaragoza</div>
<div class="t b n" style="top:720.23px;left:667.00px;text-align:left;">20<span class="o">o</span></div>
<div class="r" style="left:530.00px;top:758.00px;width:40.00px;height:13.00px;background:#ff0000;"></div>
<div class="t b n" style="top:758.93px;left:35.30px;width:400px;text-align:right;">7<span class="o">o</span></div>
<div class="t b" style="top:758.93px;left:282.50px;width:400px;text-align:center;">Atl. Madrid</div>
<div class="t w" style="top:758.93px;left:350.00px;width:400px;text-align:center;">1-0</div>
<div class="t b" style="top:758.93px;left:417.70px;width:400px;text-align:center;">Zaragoza</div>
<div class="t b n" style="top:758.93px;left:667.00px;text-align:left;">20<span class="o">o</span></div>
<div class="r" style="left:530.00px;top:771.00px;width:40.00px;height:13.00px;background:#ff0000;"></div>
<div class="t b n" style="top:771.93px;left:35.30px;width:400px;text-align:right;">8<span class="o">o</span></div>
<div class="t b" style="top:771.93px;left:282.50px;width:400px;text-align:center;">Ath. Bilbao</div>
<div class="t w" style="top:771.93px;left:350.00px;width:400px;text-align:center;">2-1</div>
<div class="t b" style="top:771.93px;left:417.70px;width:400px;text-align:center;">Zaragoza</div>
<div class="t b n" style="top:771.93px;left:667.00px;text-align:left;">20<span class="o">o</span></div>
<div class="r" style="left:530.00px;top:797.00px;width:40.00px;height:13.00px;background:#ff0000;"></div>
<div class="t b n" style="top:797.93px;left:35.30px;width:400px;text-align:right;">14<span class="o">o</span></div>
<div class="t b" style="top:797.93px;left:282.50px;width:400px;text-align:center;">Santander</div>
<div class="t w" style="top:797.93px;left:350.00px;width:400px;text-align:center;">2-0</div>
<div class="t b" style="top:797.93px;left:417.70px;width:400px;text-align:center;">Zaragoza</div>
<div class="t b n" style="top:797.93px;left:667.00px;text-align:left;">20<span class="o">o</span></div>
<div class="r" style="left:530.00px;top:810.00px;width:40.00px;height:13.00px;background:#808080;"></div>
<div class="t b n" style="top:810.93px;left:35.30px;width:400px;text-align:right;">15<span class="o">o</span></div>
<div class="t b" style="top:810.93px;left:282.50px;width:400px;text-align:center;">Deportivo Coruna</div>
<div class="t w" style="top:810.93px;left:350.00px;width:400px;text-align:center;">0-0</div>
<div class="t b" style="top:810.93px;left:417.70px;width:400px;text-align:center;">Zaragoza</div>
<div class="t b n" style="top:810.93px;left:667.00px;text-align:left;">20<span class="o">o</span></div>
<div class="box" style="left:349px;top:902px;width:337px;height:310px"></div>
<div class="t h" style="top:903.25px;left:349.70px;text-align:left;letter-spacing:0.491px;">Últimos 10 jogos em todas as competições</div>
<div class="t lab" style="top:919.33px;left:35.30px;width:400px;text-align:right;">Getafe</div>
<div class="r" style="left:530.00px;top:919.00px;width:40.00px;height:14.00px;background:#ff0000;"></div>
<div class="t b" style="top:920.93px;left:282.50px;width:400px;text-align:center;">Valencia</div>
<div class="t w" style="top:920.93px;left:350.00px;width:400px;text-align:center;">2-0</div>
<div class="t b" style="top:920.93px;left:417.70px;width:400px;text-align:center;">Getafe</div>
<svg class="r" style="left:670px;top:920px" width="15" height="11" viewBox="0 0 15 11"><rect width="15" height="11" fill="#ffe800"/><rect width="15" height="3" fill="#dd0b14"/><rect y="8.6" width="15" height="2.4" fill="#dd0b14"/><rect x="4.2" y="4.6" width="2.2" height="3" fill="#a8742c"/></svg>
<div class="r" style="left:530.00px;top:933.00px;width:40.00px;height:13.00px;background:#808080;"></div>
<div class="t b" style="top:934.13px;left:282.50px;width:400px;text-align:center;">Getafe</div>
<div class="t w" style="top:934.13px;left:350.00px;width:400px;text-align:center;">0-0</div>
<div class="t b" style="top:934.13px;left:417.70px;width:400px;text-align:center;">Portugalete</div>
<svg class="r" style="left:670px;top:934px" width="15" height="11" viewBox="0 0 15 11"><rect width="15" height="11" fill="#ffe800"/><rect width="15" height="3" fill="#dd0b14"/><rect y="8.6" width="15" height="2.4" fill="#dd0b14"/><rect x="4.2" y="4.6" width="2.2" height="3" fill="#a8742c"/></svg>
<div class="r" style="left:530.00px;top:946.00px;width:40.00px;height:13.00px;background:#ff0000;"></div>
<div class="t b" style="top:947.13px;left:282.50px;width:400px;text-align:center;">Getafe</div>
<div class="t w" style="top:947.13px;left:350.00px;width:400px;text-align:center;">1-3</div>
<div class="t b" style="top:947.13px;left:417.70px;width:400px;text-align:center;">Barcelona</div>
<svg class="r" style="left:670px;top:947px" width="15" height="11" viewBox="0 0 15 11"><rect width="15" height="11" fill="#ffe800"/><rect width="15" height="3" fill="#dd0b14"/><rect y="8.6" width="15" height="2.4" fill="#dd0b14"/><rect x="4.2" y="4.6" width="2.2" height="3" fill="#a8742c"/></svg>
<div class="r" style="left:530.00px;top:959.00px;width:40.00px;height:19.00px;background:#ff0000;"></div>
<div class="t b" style="top:963.03px;left:282.50px;width:400px;text-align:center;">Getafe</div>
<div class="t w" style="top:963.03px;left:350.00px;width:400px;text-align:center;">0-3</div>
<div class="t b" style="top:963.03px;left:417.70px;width:400px;text-align:center;">Stuttgart</div>
<svg class="r" style="left:669px;top:964px" width="15" height="10" viewBox="0 0 15 10"><defs><linearGradient id="eg" x1="0" x2="1" y1="0" y2="0"><stop offset="0" stop-color="#a83018"/><stop offset="0.1" stop-color="#d87040"/><stop offset="0.19" stop-color="#f4b080"/><stop offset="0.27" stop-color="#a02414"/><stop offset="0.42" stop-color="#8a1810"/><stop offset="0.52" stop-color="#c05828"/><stop offset="0.6" stop-color="#f09848"/><stop offset="0.8" stop-color="#f8bc5c"/><stop offset="1" stop-color="#f0a850"/></linearGradient></defs><rect width="15" height="10" fill="url(#eg)"/><path d="M6.6 0 L8.2 0 L7.2 10 L6.2 10Z" fill="#e89048" opacity="0.7"/></svg>
<div class="r" style="left:530.00px;top:978.00px;width:40.00px;height:13.00px;background:#ff0000;"></div>
<div class="t b" style="top:978.93px;left:282.50px;width:400px;text-align:center;">Ath. Bilbao</div>
<div class="t w" style="top:978.93px;left:350.00px;width:400px;text-align:center;">3-0</div>
<div class="t b" style="top:978.93px;left:417.70px;width:400px;text-align:center;">Getafe</div>
<svg class="r" style="left:670px;top:979px" width="15" height="11" viewBox="0 0 15 11"><rect width="15" height="11" fill="#ffe800"/><rect width="15" height="3" fill="#dd0b14"/><rect y="8.6" width="15" height="2.4" fill="#dd0b14"/><rect x="4.2" y="4.6" width="2.2" height="3" fill="#a8742c"/></svg>
<div class="r" style="left:530.00px;top:991.00px;width:40.00px;height:13.00px;background:#808080;"></div>
<div class="t b" style="top:992.03px;left:282.50px;width:400px;text-align:center;">Portugalete</div>
<div class="t w" style="top:992.03px;left:350.00px;width:400px;text-align:center;">1-1</div>
<div class="t b" style="top:992.03px;left:417.70px;width:400px;text-align:center;">Getafe</div>
<svg class="r" style="left:670px;top:992px" width="15" height="11" viewBox="0 0 15 11"><rect width="15" height="11" fill="#ffe800"/><rect width="15" height="3" fill="#dd0b14"/><rect y="8.6" width="15" height="2.4" fill="#dd0b14"/><rect x="4.2" y="4.6" width="2.2" height="3" fill="#a8742c"/></svg>
<div class="r" style="left:530.00px;top:1004.00px;width:40.00px;height:13.00px;background:#008000;"></div>
<div class="t b" style="top:1005.13px;left:282.50px;width:400px;text-align:center;">Getafe</div>
<div class="t w" style="top:1005.13px;left:350.00px;width:400px;text-align:center;">3-0</div>
<div class="t b" style="top:1005.13px;left:417.70px;width:400px;text-align:center;">Gijón</div>
<svg class="r" style="left:670px;top:1005px" width="15" height="11" viewBox="0 0 15 11"><rect width="15" height="11" fill="#ffe800"/><rect width="15" height="3" fill="#dd0b14"/><rect y="8.6" width="15" height="2.4" fill="#dd0b14"/><rect x="4.2" y="4.6" width="2.2" height="3" fill="#a8742c"/></svg>
<div class="r" style="left:530.00px;top:1017.00px;width:40.00px;height:13.00px;background:#ff0000;"></div>
<div class="t b" style="top:1018.13px;left:282.50px;width:400px;text-align:center;">Stuttgart</div>
<div class="t w" style="top:1018.13px;left:350.00px;width:400px;text-align:center;">1-0</div>
<div class="t b" style="top:1018.13px;left:417.70px;width:400px;text-align:center;">Getafe</div>
<svg class="r" style="left:670px;top:1018px" width="15" height="10" viewBox="0 0 15 10"><defs><linearGradient id="eg" x1="0" x2="1" y1="0" y2="0"><stop offset="0" stop-color="#a83018"/><stop offset="0.1" stop-color="#d87040"/><stop offset="0.19" stop-color="#f4b080"/><stop offset="0.27" stop-color="#a02414"/><stop offset="0.42" stop-color="#8a1810"/><stop offset="0.52" stop-color="#c05828"/><stop offset="0.6" stop-color="#f09848"/><stop offset="0.8" stop-color="#f8bc5c"/><stop offset="1" stop-color="#f0a850"/></linearGradient></defs><rect width="15" height="10" fill="url(#eg)"/><path d="M6.6 0 L8.2 0 L7.2 10 L6.2 10Z" fill="#e89048" opacity="0.7"/></svg>
<div class="r" style="left:530.00px;top:1030.00px;width:40.00px;height:13.00px;background:#ff0000;"></div>
<div class="t b" style="top:1031.13px;left:282.50px;width:400px;text-align:center;">Atl. Madrid</div>
<div class="t w" style="top:1031.13px;left:350.00px;width:400px;text-align:center;">2-0</div>
<div class="t b" style="top:1031.13px;left:417.70px;width:400px;text-align:center;">Getafe</div>
<svg class="r" style="left:670px;top:1031px" width="15" height="11" viewBox="0 0 15 11"><rect width="15" height="11" fill="#ffe800"/><rect width="15" height="3" fill="#dd0b14"/><rect y="8.6" width="15" height="2.4" fill="#dd0b14"/><rect x="4.2" y="4.6" width="2.2" height="3" fill="#a8742c"/></svg>
<div class="r" style="left:530.00px;top:1043.00px;width:40.00px;height:13.00px;background:#008000;"></div>
<div class="t b" style="top:1044.23px;left:282.50px;width:400px;text-align:center;">Getafe</div>
<div class="t w" style="top:1044.23px;left:350.00px;width:400px;text-align:center;">3-0</div>
<div class="t b" style="top:1044.23px;left:417.70px;width:400px;text-align:center;">Hercules</div>
<svg class="r" style="left:670px;top:1044px" width="15" height="11" viewBox="0 0 15 11"><rect width="15" height="11" fill="#ffe800"/><rect width="15" height="3" fill="#dd0b14"/><rect y="8.6" width="15" height="2.4" fill="#dd0b14"/><rect x="4.2" y="4.6" width="2.2" height="3" fill="#a8742c"/></svg>
<div class="r" style="left:684.00px;top:960.00px;width:1.00px;height:17.00px;background:#000;"></div>
<div class="t lab" style="top:1068.43px;left:35.30px;width:400px;text-align:right;">Zaragoza</div>
<div class="r" style="left:530.00px;top:1069.00px;width:40.00px;height:14.00px;background:#ff0000;"></div>
<div class="t b" style="top:1070.23px;left:282.50px;width:400px;text-align:center;">Zaragoza</div>
<div class="t w" style="top:1070.23px;left:350.00px;width:400px;text-align:center;">1-2</div>
<div class="t b" style="top:1070.23px;left:417.70px;width:400px;text-align:center;">Sevilla</div>
<svg class="r" style="left:670px;top:1070px" width="15" height="11" viewBox="0 0 15 11"><rect width="15" height="11" fill="#ffe800"/><rect width="15" height="3" fill="#dd0b14"/><rect y="8.6" width="15" height="2.4" fill="#dd0b14"/><rect x="4.2" y="4.6" width="2.2" height="3" fill="#a8742c"/></svg>
<div class="r" style="left:530.00px;top:1083.00px;width:40.00px;height:13.00px;background:#ff0000;"></div>
<div class="t b" style="top:1084.43px;left:282.50px;width:400px;text-align:center;">Zaragoza</div>
<div class="t w" style="top:1084.43px;left:350.00px;width:400px;text-align:center;">1-2</div>
<div class="t b" style="top:1084.43px;left:417.70px;width:400px;text-align:center;">Betis</div>
<svg class="r" style="left:670px;top:1084px" width="15" height="11" viewBox="0 0 15 11"><rect width="15" height="11" fill="#ffe800"/><rect width="15" height="3" fill="#dd0b14"/><rect y="8.6" width="15" height="2.4" fill="#dd0b14"/><rect x="4.2" y="4.6" width="2.2" height="3" fill="#a8742c"/></svg>
<div class="r" style="left:530.00px;top:1096.00px;width:40.00px;height:13.00px;background:#008000;"></div>
<div class="t b" style="top:1097.33px;left:282.50px;width:400px;text-align:center;">Zaragoza</div>
<div class="t w" style="top:1097.33px;left:350.00px;width:400px;text-align:center;">3-2</div>
<div class="t b" style="top:1097.33px;left:417.70px;width:400px;text-align:center;">Mallorca</div>
<svg class="r" style="left:670px;top:1097px" width="15" height="11" viewBox="0 0 15 11"><rect width="15" height="11" fill="#ffe800"/><rect width="15" height="3" fill="#dd0b14"/><rect y="8.6" width="15" height="2.4" fill="#dd0b14"/><rect x="4.2" y="4.6" width="2.2" height="3" fill="#a8742c"/></svg>
<div class="r" style="left:530.00px;top:1109.00px;width:40.00px;height:13.00px;background:#808080;"></div>
<div class="t b" style="top:1110.33px;left:282.50px;width:400px;text-align:center;">Valencia</div>
<div class="t w" style="top:1110.33px;left:350.00px;width:400px;text-align:center;">1-1</div>
<div class="t b" style="top:1110.33px;left:417.70px;width:400px;text-align:center;">Zaragoza</div>
<svg class="r" style="left:670px;top:1110px" width="15" height="11" viewBox="0 0 15 11"><rect width="15" height="11" fill="#ffe800"/><rect width="15" height="3" fill="#dd0b14"/><rect y="8.6" width="15" height="2.4" fill="#dd0b14"/><rect x="4.2" y="4.6" width="2.2" height="3" fill="#a8742c"/></svg>
<div class="r" style="left:530.00px;top:1122.00px;width:40.00px;height:13.00px;background:#008000;"></div>
<div class="t b" style="top:1123.33px;left:282.50px;width:400px;text-align:center;">Real Betis</div>
<div class="t w" style="top:1123.33px;left:350.00px;width:400px;text-align:center;">0-1</div>
<div class="t b" style="top:1123.33px;left:417.70px;width:400px;text-align:center;">Zaragoza</div>
<svg class="r" style="left:670px;top:1123px" width="15" height="11" viewBox="0 0 15 11"><rect width="15" height="11" fill="#ffe800"/><rect width="15" height="3" fill="#dd0b14"/><rect y="8.6" width="15" height="2.4" fill="#dd0b14"/><rect x="4.2" y="4.6" width="2.2" height="3" fill="#a8742c"/></svg>
<div class="r" style="left:530.00px;top:1135.00px;width:40.00px;height:13.00px;background:#008000;"></div>
<div class="t b" style="top:1136.33px;left:282.50px;width:400px;text-align:center;">Zaragoza</div>
<div class="t w" style="top:1136.33px;left:350.00px;width:400px;text-align:center;">0-2</div>
<div class="t b" style="top:1136.33px;left:417.70px;width:400px;text-align:center;">Barcelona</div>
<svg class="r" style="left:670px;top:1136px" width="15" height="11" viewBox="0 0 15 11"><rect width="15" height="11" fill="#ffe800"/><rect width="15" height="3" fill="#dd0b14"/><rect y="8.6" width="15" height="2.4" fill="#dd0b14"/><rect x="4.2" y="4.6" width="2.2" height="3" fill="#a8742c"/></svg>
<div class="r" style="left:530.00px;top:1148.00px;width:40.00px;height:13.00px;background:#ff0000;"></div>
<div class="t b" style="top:1149.23px;left:282.50px;width:400px;text-align:center;">Athletic</div>
<div class="t w" style="top:1149.23px;left:350.00px;width:400px;text-align:center;">2-1</div>
<div class="t b" style="top:1149.23px;left:417.70px;width:400px;text-align:center;">Zaragoza</div>
<svg class="r" style="left:670px;top:1149px" width="15" height="11" viewBox="0 0 15 11"><rect width="15" height="11" fill="#ffe800"/><rect width="15" height="3" fill="#dd0b14"/><rect y="8.6" width="15" height="2.4" fill="#dd0b14"/><rect x="4.2" y="4.6" width="2.2" height="3" fill="#a8742c"/></svg>
<div class="r" style="left:530.00px;top:1161.00px;width:40.00px;height:13.00px;background:#808080;"></div>
<div class="t b" style="top:1162.23px;left:282.50px;width:400px;text-align:center;">Zaragoza</div>
<div class="t w" style="top:1162.23px;left:350.00px;width:400px;text-align:center;">2-2</div>
<div class="t b" style="top:1162.23px;left:417.70px;width:400px;text-align:center;">Sporting Gijon</div>
<svg class="r" style="left:670px;top:1162px" width="15" height="11" viewBox="0 0 15 11"><rect width="15" height="11" fill="#ffe800"/><rect width="15" height="3" fill="#dd0b14"/><rect y="8.6" width="15" height="2.4" fill="#dd0b14"/><rect x="4.2" y="4.6" width="2.2" height="3" fill="#a8742c"/></svg>
<div class="r" style="left:530.00px;top:1174.00px;width:40.00px;height:13.00px;background:#ff0000;"></div>
<div class="t b" style="top:1175.23px;left:282.50px;width:400px;text-align:center;">Atl. Madrid</div>
<div class="t w" style="top:1175.23px;left:350.00px;width:400px;text-align:center;">1-0</div>
<div class="t b" style="top:1175.23px;left:417.70px;width:400px;text-align:center;">Zaragoza</div>
<svg class="r" style="left:670px;top:1175px" width="15" height="11" viewBox="0 0 15 11"><rect width="15" height="11" fill="#ffe800"/><rect width="15" height="3" fill="#dd0b14"/><rect y="8.6" width="15" height="2.4" fill="#dd0b14"/><rect x="4.2" y="4.6" width="2.2" height="3" fill="#a8742c"/></svg>
<div class="r" style="left:530.00px;top:1187.00px;width:40.00px;height:13.00px;background:#808080;"></div>
<div class="t b" style="top:1188.33px;left:282.50px;width:400px;text-align:center;">Zaragoza</div>
<div class="t w" style="top:1188.33px;left:350.00px;width:400px;text-align:center;">0-0</div>
<div class="t b" style="top:1188.33px;left:417.70px;width:400px;text-align:center;">Hercules</div>
<svg class="r" style="left:670px;top:1188px" width="15" height="11" viewBox="0 0 15 11"><rect width="15" height="11" fill="#ffe800"/><rect width="15" height="3" fill="#dd0b14"/><rect y="8.6" width="15" height="2.4" fill="#dd0b14"/><rect x="4.2" y="4.6" width="2.2" height="3" fill="#a8742c"/></svg>
<div class="t sub" style="top:1240.83px;left:281.50px;text-align:left;font-size:10px;color:#40248f;text-decoration:underline;text-underline-offset:1px;letter-spacing:-0.268px;">www.PauloRebeloTrader.com</div>
</div></body></html>
